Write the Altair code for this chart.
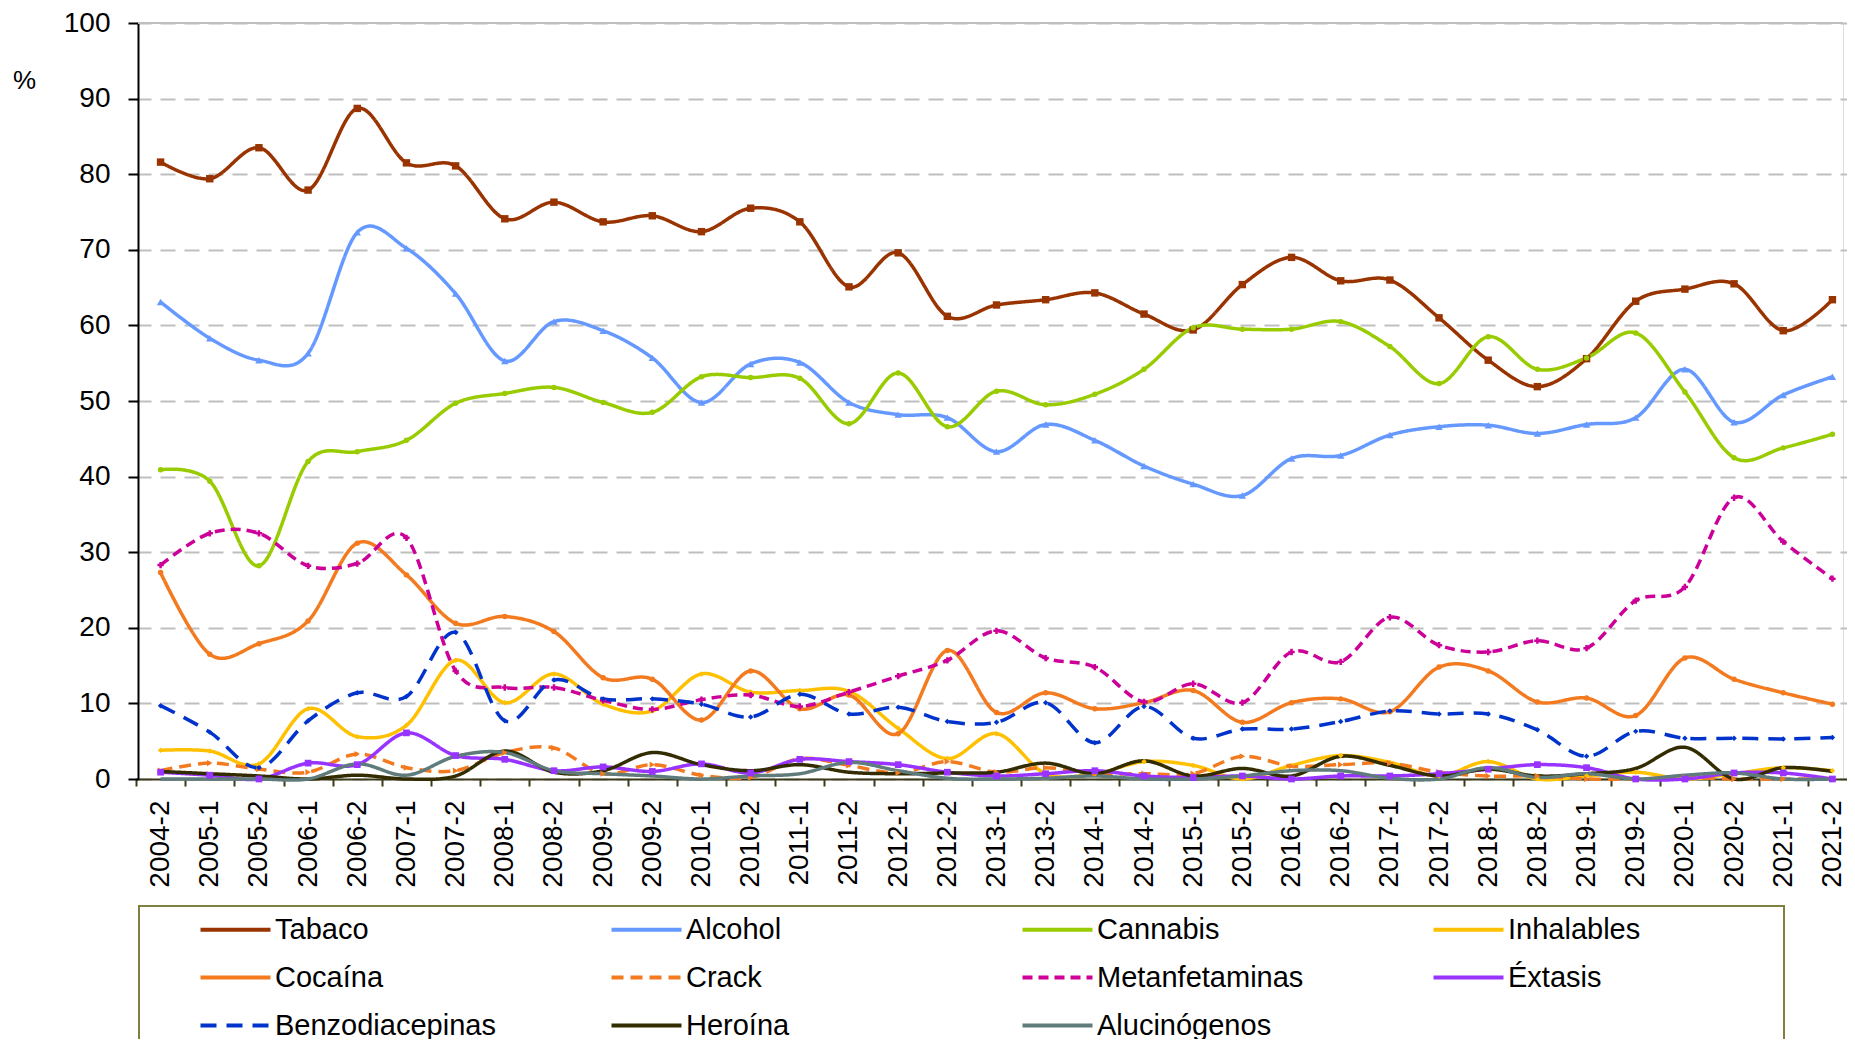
import altair as alt
import pandas as pd

periods = ["2004-2", "2005-1", "2005-2", "2006-1", "2006-2", "2007-1", "2007-2",
           "2008-1", "2008-2", "2009-1", "2009-2", "2010-1", "2010-2", "2011-1",
           "2011-2", "2012-1", "2012-2", "2013-1", "2013-2", "2014-1", "2014-2",
           "2015-1", "2015-2", "2016-1", "2016-2", "2017-1", "2017-2", "2018-1",
           "2018-2", "2019-1", "2019-2", "2020-1", "2020-2", "2021-1", "2021-2"]

series_names = ["Tabaco", "Alcohol", "Cannabis", "Inhalables", "Cocaína", "Crack",
                "Metanfetaminas", "Éxtasis", "Benzodiacepinas", "Heroína", "Alucinógenos"]

tabaco = [81.6, 79.4, 83.5, 77.9, 88.7, 81.5, 81.1, 74.1, 76.3, 73.7, 74.5, 72.4, 75.5, 73.7,
          65.1, 69.6, 61.2, 62.7, 63.4, 64.3, 61.5, 59.4, 65.4, 69.0, 65.9, 66.0, 61.0, 55.4,
          51.9, 55.6, 63.2, 64.8, 65.5, 59.3, 63.4]
alcohol = [63.1, 58.3, 55.4, 56.3, 72.3, 70.2, 64.2, 55.3, 60.5, 59.3, 55.7, 49.8, 54.9, 55.1,
           49.8, 48.2, 47.8, 43.3, 46.9, 44.8, 41.4, 39.0, 37.5, 42.4, 42.8, 45.5, 46.6, 46.8,
           45.7, 46.9, 47.8, 54.2, 47.2, 50.8, 53.2]
cannabis = [40.9, 39.4, 28.2, 42.0, 43.3, 44.8, 49.7, 51.0, 51.8, 49.8, 48.5, 53.2, 53.1, 53.0,
            47.0, 53.7, 46.6, 51.3, 49.5, 50.9, 54.2, 59.7, 59.5, 59.5, 60.5, 57.2, 52.3, 58.5,
            54.2, 55.7, 59.0, 51.2, 42.5, 43.8, 45.6]
inhalables = [3.8, 3.7, 2.0, 9.3, 5.6, 7.1, 15.7, 10.1, 13.9, 9.9, 9.0, 13.9, 11.5, 11.7,
              11.6, 6.7, 2.7, 6.0, 0.7, 0.7, 2.3, 1.8, 0.0, 1.8, 3.1, 2.2, 0.4, 2.3,
              0.0, 0.4, 0.9, 0.0, 0.7, 1.5, 1.1]
cocaina = [27.3, 16.5, 17.9, 20.9, 31.2, 27.0, 20.6, 21.5, 19.5, 13.4, 13.2, 7.8, 14.3, 9.3,
           11.1, 6.0, 17.0, 8.8, 11.4, 9.3, 10.1, 11.7, 7.5, 10.1, 10.6, 8.9, 14.8, 14.3,
           10.2, 10.7, 8.4, 16.0, 13.2, 11.4, 9.9]
crack = [1.1, 2.1, 1.3, 0.9, 3.3, 1.5, 1.1, 3.5, 4.1, 0.7, 1.9, 0.5, 0.2, 2.7,
         1.8, 0.8, 2.3, 0.9, 1.5, 0.7, 0.7, 0.7, 3.0, 1.7, 1.9, 2.1, 0.9, 0.4,
         0.4, 0.0, 0.0, 0.2, 0.0, 0.0, 0.0]
metanfetaminas = [28.3, 32.5, 32.5, 28.2, 28.5, 31.9, 14.3, 12.1, 12.1, 10.4, 9.2, 10.5, 11.1, 9.6,
                  11.5, 13.6, 15.7, 19.6, 16.0, 14.8, 10.2, 12.6, 10.1, 16.8, 15.5, 21.4, 17.7, 16.8,
                  18.3, 17.3, 23.6, 25.4, 37.2, 31.4, 26.5]
extasis = [0.9, 0.5, 0.0, 2.1, 1.9, 6.1, 3.1, 2.6, 1.1, 1.6, 1.0, 2.0, 0.8, 2.6,
           2.3, 1.9, 0.9, 0.4, 0.7, 1.1, 0.4, 0.2, 0.4, 0.0, 0.4, 0.4, 0.7, 1.3,
           1.9, 1.5, 0.0, 0.0, 0.8, 0.8, 0.0]
benzodiacepinas = [9.7, 6.2, 1.5, 7.7, 11.4, 10.9, 19.4, 7.7, 13.1, 10.6, 10.6, 9.9, 8.2, 11.2,
                   8.6, 9.5, 7.6, 7.5, 10.1, 4.8, 9.6, 5.4, 6.6, 6.6, 7.6, 9.0, 8.6, 8.6,
                   6.5, 3.0, 6.3, 5.4, 5.4, 5.3, 5.5]
heroina = [1.0, 0.7, 0.4, 0.0, 0.5, 0.0, 0.4, 3.7, 0.9, 1.1, 3.5, 1.9, 1.1, 1.9,
           0.9, 0.7, 0.8, 0.9, 2.1, 0.7, 2.4, 0.4, 1.4, 0.4, 3.0, 1.8, 0.4, 1.3,
           0.4, 0.7, 1.4, 4.2, 0.0, 1.5, 1.0]
alucinogenos = [0.0, 0.0, 0.0, 0.0, 2.0, 0.5, 3.0, 3.5, 1.1, 0.7, 0.4, 0.0, 0.4, 0.7,
                2.2, 1.1, 0.1, 0.0, 0.1, 0.4, 0.0, 0.0, 0.4, 1.1, 1.1, 0.1, 0.0, 1.5,
                0.2, 0.7, 0.0, 0.5, 0.8, 0.0, 0.0]

series_values = [tabaco, alcohol, cannabis, inhalables, cocaina, crack,
                 metanfetaminas, extasis, benzodiacepinas, heroina, alucinogenos]

# styles
colors = ["#993300", "#6699FF", "#99CC00", "#FFC000", "#F37A1F", "#F37A1F",
          "#CC0099", "#9933FF", "#0033CC", "#332C00", "#5F7B7B"]
dashes = [[1, 0], [1, 0], [1, 0], [1, 0], [1, 0], [12, 7],
          [10, 6], [1, 0], [16, 10], [1, 0], [1, 0]]
marker_shapes = ["square", "triangle-up", "circle", "diamond", "circle", "triangle-right",
                 "cross", "square", "diamond", None, None]
marker_sizes = [55, 55, 30, 30, 30, 40, 40, 45, 30, 0, 0]

rows = []
for name, vals in zip(series_names, series_values):
    for p, v in zip(periods, vals):
        rows.append({"serie": name, "periodo": p, "valor": v})
df = pd.DataFrame(rows)

mrows = []
for name, vals, col, shp, sz in zip(series_names, series_values, colors, marker_shapes, marker_sizes):
    if shp is None:
        continue
    for p, v in zip(periods, vals):
        mrows.append({"serie": name, "periodo": p, "valor": v, "hex": col, "forma": shp, "tam": sz})
mdf = pd.DataFrame(mrows)

FONT = "Liberation Sans"

x_enc = alt.X(
    "periodo:N",
    sort=periods,
    scale=alt.Scale(type="band", domain=periods, range=[-2, 1719], paddingInner=0, paddingOuter=0),
    bandPosition=0.5,
    axis=alt.Axis(
        title=None, labelAngle=270, labelFontSize=28, labelFont=FONT, labelColor="black",
        labelPadding=14, tickBand="extent", tickSize=7, tickColor="#3A3A1A", tickWidth=2,
        domainColor="#3A3A1A", domainWidth=2, grid=False, labelOverlap=False,
    ),
)

y_enc = alt.Y(
    "valor:Q",
    scale=alt.Scale(domain=[0, 100], nice=False),
    axis=alt.Axis(
        values=list(range(0, 101, 10)), title="%", titleAngle=0, titleX=-114, titleY=57,
        titleFontSize=26, titleFontWeight="normal", titleFont=FONT, titleAlign="center",
        titleBaseline="middle", titleColor="black",
        labelFontSize=28, labelFont=FONT, labelColor="black", labelPadding=18,
        tickSize=10, tickColor="black", tickWidth=2, domainColor="black", domainWidth=2,
        gridColor="#BFBFBF", gridDash=[15, 9], gridWidth=2,
    ),
)

legend = alt.Legend(
    orient="none", legendX=83, legendY=892, columns=4, title=None, direction="horizontal",
    symbolType="M-5,0H5", symbolSize=196, symbolStrokeWidth=4,
    labelFontSize=29, labelFont=FONT, labelColor="black", labelLimit=400, labelOffset=25,
    columnPadding=107, rowPadding=18, gridAlign="all", padding=0,
)

lines = alt.Chart(df).mark_line(interpolate="cardinal", strokeWidth=3.5).encode(
    x=x_enc,
    y=y_enc,
    color=alt.Color("serie:N", scale=alt.Scale(domain=series_names, range=colors), legend=legend),
    strokeDash=alt.StrokeDash("serie:N", scale=alt.Scale(domain=series_names, range=dashes), legend=legend),
    order=alt.Order("serie:N"),
)

points = alt.Chart(mdf).mark_point(filled=True, opacity=1).encode(
    x=alt.X("periodo:N", sort=periods, bandPosition=0.5),
    y="valor:Q",
    color=alt.Color("hex:N", scale=None),
    shape=alt.Shape("forma:N", scale=None),
    size=alt.Size("tam:Q", scale=None),
)

top_rule = alt.Chart(pd.DataFrame({"v": [100]})).mark_rule(color="#BFBFBF", strokeWidth=2).encode(
    y="v:Q"
)

box = alt.Chart(pd.DataFrame({"k": [0]})).mark_rect(
    fillOpacity=0, stroke="#7F7F3F", strokeWidth=2
).encode(
    x=alt.value(1), x2=alt.value(1646), y=alt.value(883), y2=alt.value(1300)
)

chart = alt.layer(top_rule, lines, points, box).properties(
    width=1705, height=756,
    autosize=alt.AutoSizeParams(type="none"),
    padding={"left": 130, "top": 15, "right": 4, "bottom": 260},
    background="white",
).configure_view(strokeWidth=0).configure(font=FONT)

chart.save("out.html", embed_options={"renderer": "svg", "actions": False})
